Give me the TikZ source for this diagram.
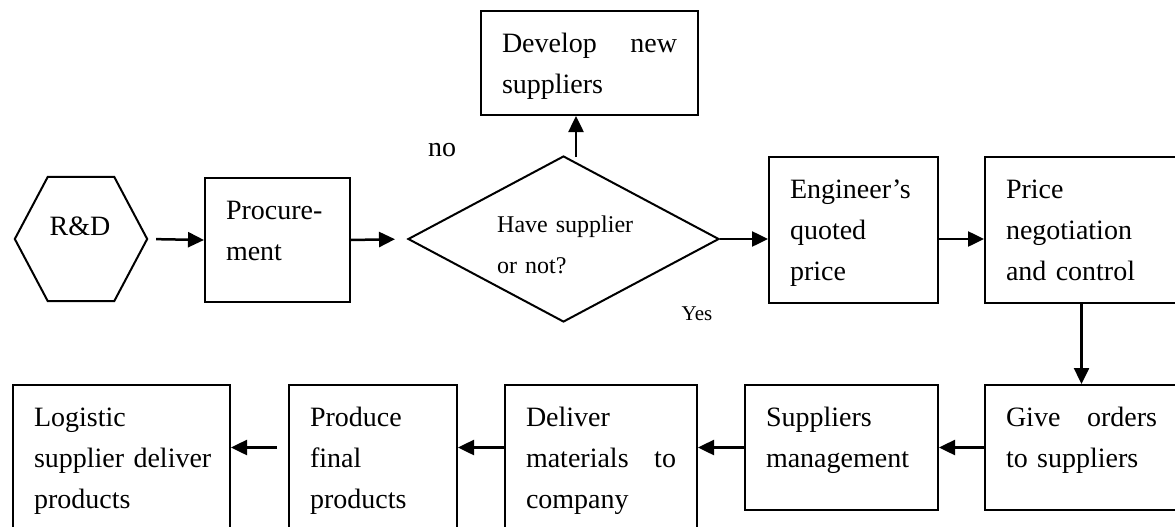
\documentclass[tikz,border=0pt]{standalone}
\usepackage{fontspec}
\setmainfont{Liberation Serif}
\usepackage{tikz}
\usetikzlibrary{shapes.geometric,arrows.meta,calc}

\newcommand{\flowfont}{\fontsize{28}{41}\selectfont}
\newcommand{\askfont}{\fontsize{24}{41}\selectfont}

\begin{document}
\begin{tikzpicture}[x=1pt,y=-1pt,
	stepbox/.style={draw,line width=2pt,anchor=north west,inner xsep=21pt,inner ysep=0pt,
		align=left,text height=41.5pt,font=\flowfont},
	decision/.style={draw,diamond,line width=2pt,minimum width=311pt,minimum height=166pt,inner sep=0pt},
	flow/.style={line width=2.5pt,-{Triangle[length=16pt,width=15pt]}}]
	\useasboundingbox (0,0) rectangle (1175,527);
	\clip (0,0) rectangle (1175,527);
	% top row
	\node[minimum width=132pt,minimum height=124pt,inner sep=0pt] (rd) at (81,239) {};
	\draw[line width=2pt] (rd.west) -- ([xshift=33pt]rd.north west) -- ([xshift=-33pt]rd.north east)
		-- (rd.east) -- ([xshift=-33pt]rd.south east) -- ([xshift=33pt]rd.south west) -- cycle;
	\node[anchor=base,font=\flowfont] (rdtext) at (80,235) {R\&D};
	\node[stepbox,text width=103pt,text depth=82.5pt] (proc) at (204,177) {Procure-\\ment};
	\node[decision] (ask) at (563.5,239) {};
	\node[anchor=base west,text width=150pt,align=left,inner sep=0pt,font=\askfont] (asktext) at (497,232) {Have supplier\\or not?};
	\node[stepbox,text width=175pt,text depth=62.5pt] (newsup) at (480,10) {Develop\hfill new\\suppliers};
	\node[stepbox,text width=127pt,text depth=104.5pt] (eng) at (768,156) {Engineer’s\\quoted\\price};
	\node[stepbox,text width=151pt,text depth=104.5pt] (price) at (984,156) {Price\\negotiation\\and control};
	\node[anchor=base,font=\flowfont] (nolabel) at (442,156) {no};
	\node[anchor=base,font=\fontsize{21}{25}\selectfont] (yeslabel) at (697,320) {Yes};
	% bottom row
	\node[stepbox,text width=151pt,text depth=83.5pt] (give) at (984,384) {Give\hfill orders\\to suppliers};
	\node[stepbox,text width=151pt,text depth=83.5pt] (supp) at (744,384) {Suppliers\\management};
	\node[stepbox,text width=150pt,text depth=108.5pt] (deliv) at (504,384) {Deliver\\materials\hfill to\\company};
	\node[stepbox,text width=126pt,text depth=108.5pt] (prod) at (288,384) {Produce\\final\\products};
	\node[stepbox,text width=175pt,text depth=108.5pt] (logi) at (12,384) {Logistic\\\mbox{supplier deliver}\\products};
	% arrows
	\draw[flow,shorten <=9pt] (rd.east) -- (proc.west);
	\draw[flow,shorten >=12pt] (proc.east) -- (ask.west);
	\draw[flow] (ask.east) -- (ask.east -| eng.west);
	\draw[flow] (ask.east -| eng.east) -- (ask.east -| price.west);
	\coordinate (upfoot) at (576,157);
	\draw[flow] (upfoot) -- (upfoot |- newsup.south);
	\draw[flow] (price.south) -- (give.north);
	\draw[flow] (give.west) -- (supp.east);
	\draw[flow] (supp.west) -- (supp.west -| deliv.east);
	\draw[flow] (supp.west -| deliv.west) -- (supp.west -| prod.east);
	\draw[flow,shorten <=11pt] (supp.west -| prod.west) -- (supp.west -| logi.east);
\end{tikzpicture}
\end{document}
